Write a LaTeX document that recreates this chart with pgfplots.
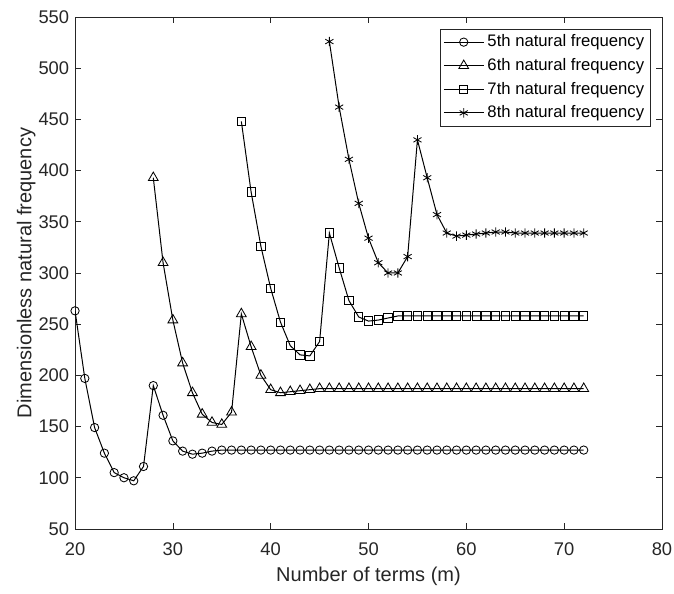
\documentclass[border=0pt]{standalone}
\usepackage{fontspec}
\setmainfont{Liberation Sans}
\usepackage{pgfplots}
\pgfplotsset{compat=1.18}
\definecolor{axgray}{gray}{0.15}

\begin{document}
\begin{tikzpicture}
\useasboundingbox (-45pt,-38.5pt) rectangle (359.2pt,317.2pt);
\begin{axis}[
  at={(0,0)}, anchor=south west,
  width=352pt, height=307pt,
  scale only axis,
  xmin=20, xmax=80, ymin=50, ymax=550,
  xtick={20,30,...,80}, ytick={50,100,...,550},
  xlabel={Number of terms (m)},
  ylabel={Dimensionless natural frequency},
  font=\fontsize{11}{13}\selectfont,
  label style={font=\fontsize{12}{14}\selectfont, text=axgray},
  ticklabel style={text=axgray},
  /pgf/number format/assume math mode=true,
  axis line style={axgray},
  tick style={axgray, thin},
  major tick length=3.6pt,
  xticklabel style={yshift=-5pt},
  xlabel style={yshift=0.5pt},
  ylabel style={yshift=-5pt},
  legend style={at={(1,1)}, anchor=north east, xshift=-7pt, yshift=-7pt,
    draw=axgray, font=\fontsize{10}{12}\selectfont, row sep=1.4pt,
    inner sep=1.5pt},
  legend cell align=left,
  legend image code/.code={
    \draw[mark repeat=2, mark phase=2, #1] plot coordinates {(0cm,0cm) (0.42cm,0cm) (0.84cm,0cm)};
  },
  every axis plot/.append style={black, line width=0.6pt, mark size=2.5pt,
    mark options={solid, line width=0.5pt}},
]
\addplot[mark=o] coordinates {
(20,263)(21,197)(22,149)(23,124)(24,105)(25,100)(26,97)(27,111)(28,190)(29,161)
(30,136)(31,126)(32,123)(33,124)(34,126)(35,127)(36,127)(37,127)(38,127)(39,127)
(40,127)(41,127)(42,127)(43,127)(44,127)(45,127)(46,127)(47,127)(48,127)(49,127)
(50,127)(51,127)(52,127)(53,127)(54,127)(55,127)(56,127)(57,127)(58,127)(59,127)
(60,127)(61,127)(62,127)(63,127)(64,127)(65,127)(66,127)(67,127)(68,127)(69,127)
(70,127)(71,127)(72,127)
};
\addlegendentry{5th natural frequency}
\addplot[mark=triangle, mark size=3.4pt] coordinates {
(28,393)(29,310)(30,254)(31,212)(32,183)(33,162)(34,154)(35,152)(36,164)(37,260)
(38,228)(39,200)(40,186)(41,183)(42,184)(43,185)(44,186)(45,187)(46,187)(47,187)
(48,187)(49,187)(50,187)(51,187)(52,187)(53,187)(54,187)(55,187)(56,187)(57,187)
(58,187)(59,187)(60,187)(61,187)(62,187)(63,187)(64,187)(65,187)(66,187)(67,187)
(68,187)(69,187)(70,187)(71,187)(72,187)
};
\addlegendentry{6th natural frequency}
\addplot[mark=square] coordinates {
(37,448)(38,379)(39,326)(40,285)(41,252)(42,229)(43,220)(44,219)(45,233)(46,339)
(47,305)(48,273)(49,257)(50,253)(51,254)(52,256)(53,258)(54,258)(55,258)(56,258)
(57,258)(58,258)(59,258)(60,258)(61,258)(62,258)(63,258)(64,258)(65,258)(66,258)
(67,258)(68,258)(69,258)(70,258)(71,258)(72,258)
};
\addlegendentry{7th natural frequency}
\addplot[mark=asterisk, mark size=2.8pt] coordinates {
(46,526)(47,462)(48,411)(49,368)(50,334)(51,310)(52,300)(53,300)(54,316)(55,430)
(56,393)(57,357)(58,339)(59,336)(60,337)(61,338)(62,339)(63,340)(64,340)(65,339)
(66,339)(67,339)(68,339)(69,339)(70,339)(71,339)(72,339)
};
\addlegendentry{8th natural frequency}
\end{axis}
\end{tikzpicture}
\end{document}
